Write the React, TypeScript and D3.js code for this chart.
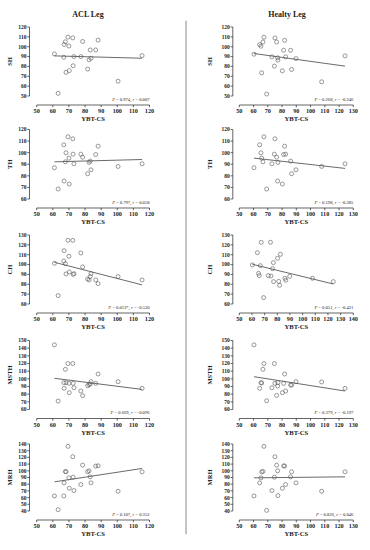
import React from 'react';
import * as d3 from 'd3';

// YBT-CS of each subject (x), one array per leg
const aclYbt = [61.0, 63.3, 66.8, 67.0, 67.8, 68.2, 69.4, 70.0, 70.2, 72.4, 72.6, 73.1, 77.4, 78.5, 81.6, 82.5, 83.2, 83.7, 86.6, 88.1, 100.5, 115.4];
const healthyYbt = [60.3, 64.3, 65.2, 65.7, 66.6, 67.3, 69.2, 72.9, 74.6, 75.0, 76.2, 76.9, 77.1, 80.2, 81.1, 81.8, 82.5, 86.0, 86.7, 89.8, 107.8, 124.2];

// hop tests, ACL leg
const aclSH = [92.7, 52.7, 89.3, 102.3, 105, 74, 109.7, 100.7, 75.7, 109, 80.7, 90, 90, 105.3, 77.3, 86.7, 96.7, 88.3, 96.7, 106.7, 65, 91];
const aclTH = [87, 68.6, 106.8, 75.5, 92.1, 99.9, 113.7, 95.3, 72.9, 112, 98.7, 90.4, 98.7, 96.1, 81.8, 91.6, 92.7, 85.2, 98.4, 105.6, 88.1, 90.4];
const aclCH = [101.3, 68.5, 103.6, 114.1, 100.9, 90.5, 124.6, 108.4, 92.5, 124.6, 90.1, 90.8, 111.8, 97.6, 85.4, 84.4, 87.8, 90.8, 84.4, 80.7, 87.8, 84.4];
const aclMSTH = [144.3, 71, 95, 87.6, 112.4, 95, 119.9, 94.1, 81.9, 119.9, 94.1, 88.4, 84.1, 78, 91, 92.4, 93.2, 96.3, 94.1, 106.3, 96.3, 87.6];
const aclMRH = [62.5, 42, 62.5, 82, 99, 98.5, 136.5, 89.5, 74, 121, 90.5, 70.5, 79.5, 108.5, 98.5, 100, 91, 82, 107, 107.5, 69.5, 98.5];

// hop tests, healthy leg
const healthySH = [92.4, 102.2, 100.5, 73.5, 104.8, 109.6, 52, 89.7, 80.3, 108.9, 104.8, 88.7, 86.3, 75.6, 96.4, 106.5, 89.7, 96.4, 76.9, 88, 64.4, 90.7];
const healthyTH = [87, 106.8, 99.9, 95.3, 92.1, 113.7, 68.6, 90.4, 98.7, 112, 96.1, 75.5, 91.6, 72.9, 98.4, 105.6, 98.7, 92.7, 81.8, 85.2, 88.1, 90.4];
const healthyCH = [99.6, 112.1, 91.1, 88.8, 98.9, 122.6, 66.5, 88.8, 122.6, 88.4, 95.9, 102, 82.7, 106.4, 83, 79, 110.4, 86.1, 84.1, 88.1, 86.1, 82.7];
const healthyMSTH = [144.3, 87.6, 95, 94.5, 112.4, 119.9, 71.4, 88.4, 119.9, 94.1, 78.4, 90.6, 95, 81.9, 94.1, 106.3, 84.1, 91.9, 91.9, 96.3, 95.9, 87.6];
const healthyMRH = [62.5, 82, 89.5, 98.5, 99, 136.5, 41, 70.5, 90.5, 121, 108.5, 100, 63, 74, 107.5, 107, 79.5, 91, 98.5, 82, 69.5, 98.5];

const measures = ['SH', 'TH', 'CH', 'MSTH', 'MRH'];
const yDomains = [[50, 120], [60, 120], [60, 130], [60, 150], [40, 140]];
const aclXDomains = [[50, 120], [50, 120], [50, 120], [50, 120], [50, 120]];
const healthyXDomains = [[50, 130], [50, 130], [50, 140], [50, 130], [50, 130]];

// fitted line: value at smallest and largest YBT-CS
const aclFit = [[90.7, 88.3], [92.1, 94.1], [102.3, 79.4], [100.7, 86.2], [83.5, 103.5]];
const healthyFit = [[93.1, 80.3], [95.3, 86.4], [100.3, 80.3], [102.8, 84.1], [89.5, 91]];

const aclP = ['0.974', '0.797', '0.013*', '0.669', '0.107'];
const aclR = ['0.007', '0.058', '-0.520', '-0.096', '0.352'];
const healthyP = ['0.268', '0.198', '0.051', '0.379', '0.836'];
const healthyR = ['-0.246', '-0.285', '-0.421', '-0.197', '0.046'];

const font = '"Liberation Serif", "Times New Roman", serif';
const ink = '#222';

// layout of rows (y of top tick, plot height)
const rowTop = [27, 129.5, 235, 340.5, 444];
const rowHeight = [69, 69.5, 69, 69, 67];

const cols = [
  { title: 'ACL Leg', titleX: 88, axisX: 29.5, x0: 36.7, x1: 149.5, labelX: 10, xs: aclYbt, ys: [aclSH, aclTH, aclCH, aclMSTH, aclMRH], xd: aclXDomains, fit: aclFit, p: aclP, r: aclR },
  { title: 'Healty Leg', titleX: 287, axisX: 232.8, x0: 239.3, x1: 353.3, labelX: 209.5, xs: healthyYbt, ys: [healthySH, healthyTH, healthyCH, healthyMSTH, healthyMRH], xd: healthyXDomains, fit: healthyFit, p: healthyP, r: healthyR },
];

function Panel({ col, i }: { col: any; i: number }) {
  const top = rowTop[i];
  const bottom = top + rowHeight[i];
  const axisY = bottom + 9;
  const [xmin, xmax] = col.xd[i];
  const [ymin, ymax] = yDomains[i];
  const x = d3.scaleLinear().domain([xmin, xmax]).range([col.x0, col.x1]);
  const y = d3.scaleLinear().domain([ymin, ymax]).range([bottom, top]);
  const xTicks = d3.range(xmin, xmax + 1, 10);
  const yTicks = d3.range(ymin, ymax + 1, 10);
  const xs: number[] = col.xs;
  const ys: number[] = col.ys[i];
  const [fx0, fx1] = d3.extent(xs) as [number, number];
  const line = d3.line<[number, number]>().x(d => x(d[0])).y(d => y(d[1]));

  return (
    <g>
      {/* y axis */}
      <line x1={col.axisX} x2={col.axisX} y1={top} y2={bottom} stroke={ink} strokeWidth={0.7} />
      {yTicks.map(t => (
        <g key={'y' + t}>
          <line x1={col.axisX - 2.2} x2={col.axisX} y1={y(t)} y2={y(t)} stroke={ink} strokeWidth={0.7} />
          <text x={col.axisX - 3} y={y(t)} dy="0.35em" textAnchor="end" fontSize={5.5} fontWeight="bold" fill={ink}>{t}</text>
        </g>
      ))}
      <text transform={`translate(${col.labelX},${(top + bottom) / 2}) rotate(-90)`} textAnchor="middle" dy="0.35em" fontSize={6.5} fontWeight="bold" fill={ink}>{measures[i]}</text>

      {/* x axis */}
      <line x1={x(xmin)} x2={x(xmax)} y1={axisY} y2={axisY} stroke={ink} strokeWidth={0.7} />
      {xTicks.map(t => (
        <g key={'x' + t}>
          <line x1={x(t)} x2={x(t)} y1={axisY} y2={axisY + 2.2} stroke={ink} strokeWidth={0.7} />
          <text x={x(t)} y={axisY + 6.3} dy="0.35em" textAnchor="middle" fontSize={6.2} fontWeight="bold" fill={ink}>{t}</text>
        </g>
      ))}
      <text x={(x(xmin) + x(xmax)) / 2} y={axisY + 14} dy="0.35em" textAnchor="middle" fontSize={6.6} fontWeight="bold" fill={ink}>YBT-CS</text>

      {/* fitted line and points */}
      <path d={line([[fx0, col.fit[i][0]], [fx1, col.fit[i][1]]]) || ''} stroke="#444" strokeWidth={0.8} fill="none" />
      {xs.map((v, k) => (
        <circle key={k} cx={x(v)} cy={y(ys[k])} r={2} fill="none" stroke="#555" strokeWidth={0.6} />
      ))}

      <text x={x(xmax)} y={bottom + 3} dy="0.35em" textAnchor="end" fontSize={4.6} fill={ink}>
        <tspan fontStyle="italic">P</tspan>{` = ${col.p[i]}, `}<tspan fontStyle="italic">r</tspan>{` = ${col.r[i]}`}
      </text>
    </g>
  );
}

export default function App() {
  return (
    <svg width={370} height={550} style={{ position: 'absolute', left: 0, top: 0, background: '#fff' }} fontFamily={font}>
      <rect width={370} height={550} fill="#fff" />
      {cols.map((col, c) => (
        <g key={c}>
          <text x={col.titleX} y={14} dy="0.35em" textAnchor="middle" fontSize={8} fontWeight="bold" fill={ink}>{col.title}</text>
          {measures.map((m, i) => <Panel key={m} col={col} i={i} />)}
        </g>
      ))}
      <line x1={186} x2={186} y1={20.7} y2={534.3} stroke="#888" strokeWidth={1} />
    </svg>
  );
}
